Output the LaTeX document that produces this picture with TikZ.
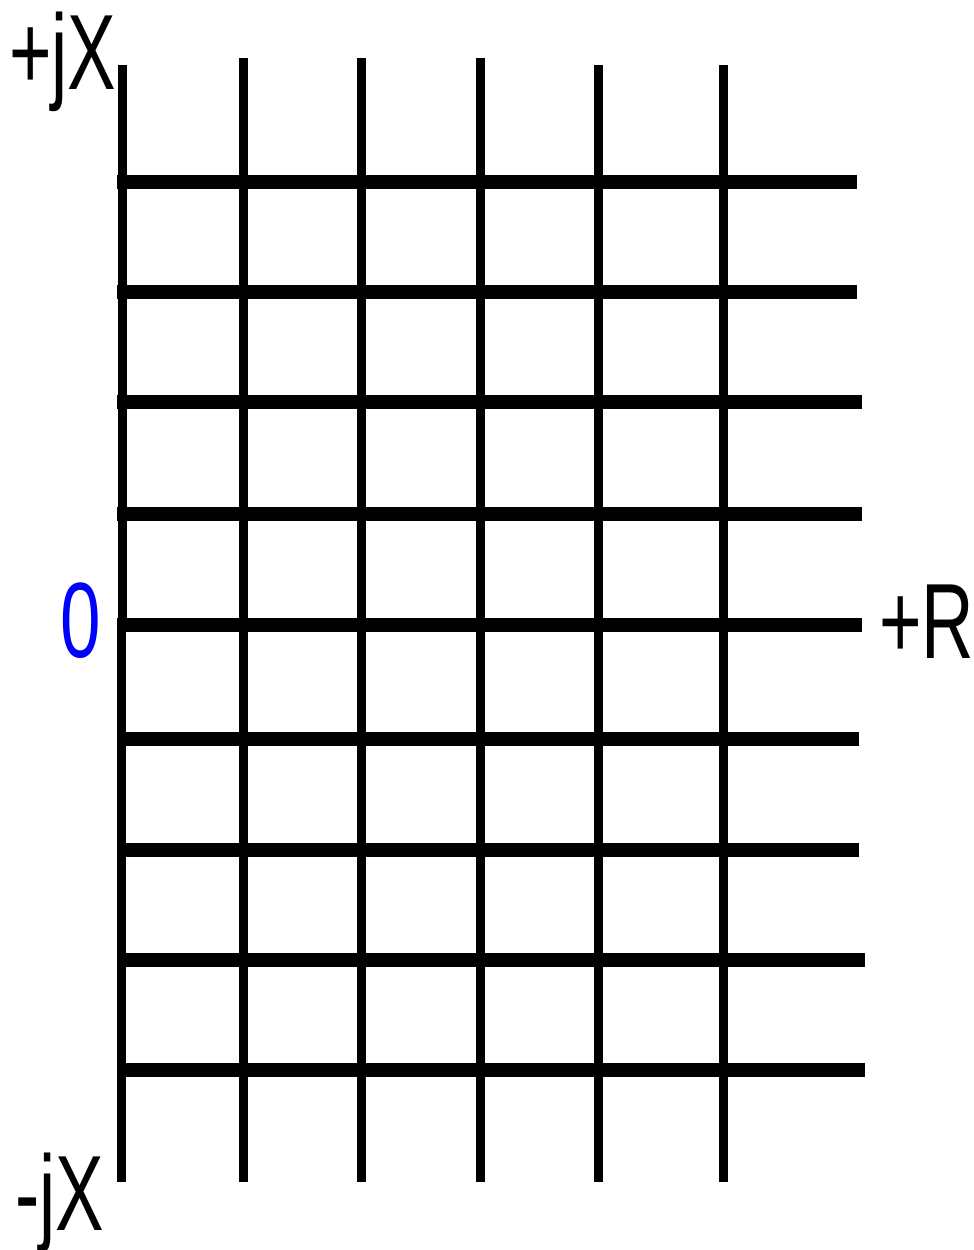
\documentclass[tikz,border=0pt]{standalone}
\usepackage{graphicx}
\usepackage{fontspec}
\setmainfont{Liberation Sans}
\newcommand\narrowtxt[1]{\scalebox{0.68}[1]{#1}}
\begin{document}
\begin{tikzpicture}[x=1pt,y=-1pt,
  vline/.style={line width=9pt,black},
  hline/.style={line width=14pt,black},
  lbl/.style={inner sep=0pt,anchor=base west,font=\fontsize{107}{107}\selectfont}]
\useasboundingbox (0,0) rectangle (974,1250);
% vertical lines
\draw[vline] (122.5,65) -- (122.5,624);
\draw[vline] (121.5,624) -- (121.5,1182);
\draw[vline] (243,58) -- (243,1182);
\draw[vline] (361,58) -- (361,1182);
\draw[vline] (480.5,58) -- (480.5,1182);
\draw[vline] (598.5,65) -- (598.5,1182);
\draw[vline] (723,65) -- (723,1182);
% horizontal lines
\draw[hline] (117,182) -- (857,182);
\draw[hline] (117,292) -- (857,292);
\draw[hline] (117,402) -- (862,402);
\draw[hline] (117,514) -- (862,514);
\draw[hline] (117,625) -- (862,625);
\draw[hline] (117,739) -- (859,739);
\draw[hline] (117,849.5) -- (859,849.5);
\draw[hline] (117,960) -- (865,960);
\draw[hline] (117,1070) -- (865,1070);
% labels
\node[lbl] (pjx) at (9,89) {\narrowtxt{+jX}};
\node[lbl] (mjx) at (15,1230) {\narrowtxt{-jX}};
\node[lbl,text={rgb,255:red,0;green,0;blue,255}] (zero) at (60,657) {\narrowtxt{0}};
\node[lbl] (pr) at (879,658) {\narrowtxt{+R}};
\end{tikzpicture}
\end{document}
